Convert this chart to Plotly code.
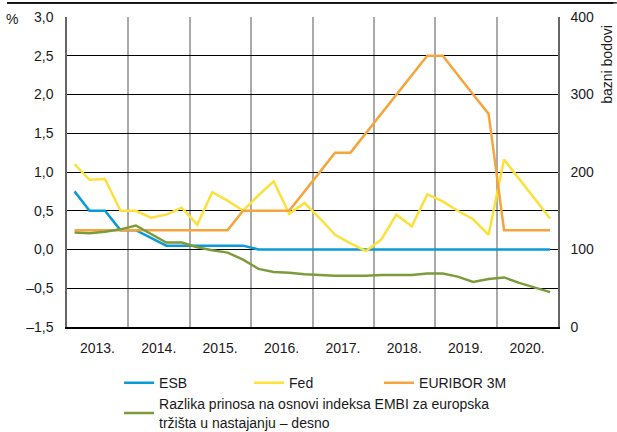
import plotly.graph_objects as go

# quarterly observations, 2013 - 2020 (mid-quarter dates)
quarters = [f"{y}-{m:02d}-15" for y in range(2013, 2021) for m in (2, 5, 8, 11)]

esb = [0.75, 0.50, 0.50, 0.25, 0.25, 0.15, 0.05, 0.05,
       0.05, 0.05, 0.05, 0.05, 0.00, 0.00, 0.00, 0.00,
       0.00, 0.00, 0.00, 0.00, 0.00, 0.00, 0.00, 0.00,
       0.00, 0.00, 0.00, 0.00, 0.00, 0.00, 0.00, 0.00]

fed = [1.10, 0.90, 0.91, 0.50, 0.50, 0.41, 0.45, 0.54,
       0.32, 0.74, 0.63, 0.50, 0.70, 0.88, 0.46, 0.60,
       0.40, 0.19, 0.08, -0.02, 0.13, 0.45, 0.30, 0.71,
       0.62, 0.50, 0.39, 0.19, 1.16, 0.91, 0.65, 0.40]

euribor = [0.25, 0.25, 0.25, 0.25, 0.25, 0.25, 0.25, 0.25,
           0.25, 0.25, 0.25, 0.50, 0.50, 0.50, 0.50, 0.75,
           1.00, 1.25, 1.25, 1.50, 1.75, 2.00, 2.25, 2.50,
           2.50, 2.25, 2.00, 1.75, 0.25, 0.25, 0.25, 0.25]

embi = [122, 121, 123, 126, 131, 120, 109, 109,
        103, 99, 96, 87, 75, 71, 70, 68,
        67, 66, 66, 66, 67, 67, 67, 69,
        69, 65, 58, 62, 64, 57, 51, 45]

year_labels = ["2013.", "2014.", "2015.", "2016.", "2017.", "2018.", "2019.", "2020."]
year_mid = [f"{y}-07-01" for y in range(2013, 2021)]
year_start = [f"{y}-01-01" for y in range(2014, 2021)]

left_ticks = [-1.0, -0.5, 0.0, 0.5, 1.0, 1.5, 2.0, 2.5, 3.0]
left_text = ["–1,5", "–0,5", "0,0", "0,5", "1,0", "1,5", "2,0", "2,5", "3,0"]

FONT = "Liberation Sans, Arial, sans-serif"

fig = go.Figure()
fig.add_trace(go.Scatter(x=quarters, y=esb, name="ESB", mode="lines",
                         line=dict(color="#0a9ad8", width=2.5)))
fig.add_trace(go.Scatter(x=quarters, y=fed, name="Fed", mode="lines",
                         line=dict(color="#fde13a", width=2.5)))
fig.add_trace(go.Scatter(x=quarters, y=euribor, name="EURIBOR 3M", mode="lines",
                         line=dict(color="#f5a53c", width=2.5)))
fig.add_trace(go.Scatter(x=quarters, y=embi, yaxis="y2", mode="lines",
                         name="Razlika prinosa na osnovi indeksa EMBI za europska<br>tržišta u nastajanju – desno",
                         line=dict(color="#7d9b3c", width=2.5)))

fig.update_layout(
    width=617, height=432,
    margin=dict(l=67, r=59, t=17, b=105),
    paper_bgcolor="white", plot_bgcolor="white",
    font=dict(family=FONT, size=14, color="#1a1a1a"),
    xaxis=dict(
        range=["2013-01-01", "2021-01-01"],
        tickvals=year_mid, ticktext=year_labels,
        showgrid=False, ticks="", showline=True, automargin=False,
        linecolor="black", linewidth=2, ticklabelstandoff=7,
        minor=dict(tickvals=year_start, showgrid=True,
                   gridcolor="#aaaaaa", gridwidth=1.5, ticks=""),
    ),
    yaxis=dict(
        range=[-1, 3], tickvals=left_ticks, ticktext=left_text,
        showgrid=True, gridcolor="black", gridwidth=1, automargin=False,
        zeroline=False, showline=True, linecolor="#666666", linewidth=1.5,
        ticks="", ticklabelstandoff=9,
    ),
    yaxis2=dict(
        range=[0, 400], tickvals=[0, 100, 200, 300, 400],
        overlaying="y", side="right", showgrid=False, zeroline=False,
        showline=True, linecolor="#666666", linewidth=1.5, automargin=False,
        ticks="", ticklabelstandoff=8,
    ),
    legend=dict(
        orientation="h", x=0.106, xanchor="left",
        yref="container", y=0.15, yanchor="top",
        entrywidth=85, traceorder="normal", font=dict(size=14),
        bgcolor="rgba(0,0,0,0)", itemwidth=30, tracegroupgap=0,
    ),
    showlegend=True,
)

# top rule (a thin filled band in paper space)
fig.add_shape(type="rect", xref="paper", yref="paper", layer="above",
              x0=-0.122, x1=1.12, y0=1.0435, y1=1.0475,
              fillcolor="black", line=dict(width=0))
# same rule drawn as a headless annotation arrow, in case shapes are clipped
fig.add_annotation(text=" ", xref="paper", yref="paper",
                   x=-0.122, y=1.0455, ax=620, ay=0,
                   axref="pixel", ayref="pixel",
                   showarrow=True, arrowhead=0, arrowwidth=1.5,
                   arrowcolor="black", standoff=0, startstandoff=0)

fig.add_annotation(text="%", xref="paper", yref="paper",
                   x=-0.112, y=0.993, xanchor="center", yanchor="middle",
                   showarrow=False, font=dict(size=14))
fig.add_annotation(text="bazni bodovi", xref="paper", yref="paper",
                   x=1.100, y=0.98, xanchor="center", yanchor="top",
                   textangle=-90, showarrow=False, font=dict(size=14))

# the page's default body margin would shift the figure by 8 px
fig.write_html("out.html", config={"displayModeBar": False},
               post_script="document.body.style.margin = '0';")
